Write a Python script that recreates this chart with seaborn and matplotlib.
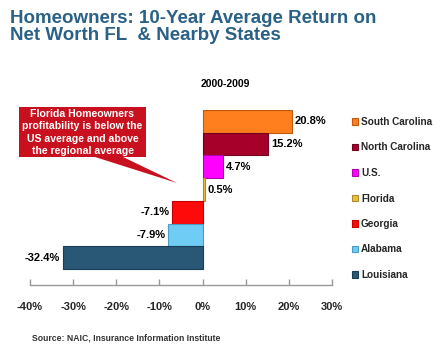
import matplotlib
matplotlib.use("Agg")
import matplotlib.pyplot as plt
from matplotlib.patches import Patch, Polygon
import seaborn as sns
import pandas as pd

# Ten-year average return on net worth, homeowners line, 2000-2009
states = ["South Carolina", "North Carolina", "U.S.", "Florida", "Georgia", "Alabama", "Louisiana"]
returns = [20.8, 15.2, 4.7, 0.5, -7.1, -7.9, -32.4]
fill_colors = ["#FF7F1E", "#A6002A", "#FF00FF", "#E8C03A", "#FF0A0A", "#6FCDF5", "#285876"]
edge_colors = ["#C05A10", "#70001C", "#B000B0", "#B08A30", "#C00000", "#4A9CC0", "#1A3C52"]
x_ticks = [-40, -30, -20, -10, 0, 10, 20, 30]

sns.set_theme(style="white")
plt.rcParams["font.family"] = ["Liberation Sans", "DejaVu Sans"]

df = pd.DataFrame({"state": states, "ret": returns})

fig = plt.figure(figsize=(4.43, 3.49), dpi=100)
ax = fig.add_axes([30 / 443, 1 - 285 / 349, 302 / 443, 175 / 349])

sns.barplot(data=df, x="ret", y="state", hue="state", palette=fill_colors,
            order=states, hue_order=states, orient="h", width=1.0,
            legend=False, ax=ax, saturation=1)
for patch, ec in zip(ax.patches, edge_colors):
    patch.set_edgecolor(ec)
    patch.set_linewidth(0.8)

for cont in ax.containers:
    ax.bar_label(cont, labels=[f"{v:.1f}%" for v in cont.datavalues],
                 padding=2, fontsize=8, fontweight="bold", color="black")

ax.set_xlim(-40, 30)
ax.set_ylim(7.2, -0.5)
ax.set_xticks(x_ticks)
ax.set_xticklabels([f"{t}%" for t in x_ticks], fontsize=8, fontweight="bold")
ax.set_yticks([])
ax.set_xlabel("")
ax.set_ylabel("")
for s in ["top", "left", "right"]:
    ax.spines[s].set_visible(False)
ax.spines["bottom"].set_color("#999999")
ax.spines["bottom"].set_linewidth(1.0)
ax.tick_params(axis="x", direction="in", length=4, color="#999999", width=1.0,
               pad=12, bottom=True)

# Legend on the right
handles = [Patch(facecolor=c, edgecolor=e, linewidth=0.8) for c, e in zip(fill_colors, edge_colors)]
fig.legend(handles, states, loc="upper left", bbox_to_anchor=(352 / 443, 1 - 117 / 349),
           frameon=False, prop={"weight": "bold", "size": 7.2},
           handlelength=0.6, handleheight=0.6, handletextpad=0.3,
           labelspacing=1.55, borderaxespad=0, borderpad=0)

# Title
title_color = "#2A6186"
fig.text(10 / 443, 1 - 23 / 349, "Homeowners: 10-Year Average Return on",
         fontsize=13.5, fontweight="bold", color=title_color, va="baseline", ha="left")
fig.text(10 / 443, 1 - 40.5 / 349, "Net Worth FL  & Nearby States",
         fontsize=13.5, fontweight="bold", color=title_color, va="baseline", ha="left")
fig.text(225 / 443, 1 - 84 / 349, "2000-2009", fontsize=7.5, fontweight="bold",
         color="black", ha="center", va="center")

# Callout
W, H = 443, 349
pts = [(19, 107), (146, 107), (146, 157), (123, 157), (177, 183), (95, 157), (19, 157)]
callout = Polygon([(x / W, 1 - y / H) for x, y in pts], closed=True,
                  transform=fig.transFigure, facecolor="#C8101E", edgecolor="none")
fig.patches.append(callout)
fig.text(82.5 / W, 1 - 132.5 / H,
         "Florida Homeowners\nprofitability is below the\nUS average and above\nthe regional average",
         ha="center", va="center", fontsize=7.6, fontweight="bold", color="white",
         linespacing=1.3)

fig.text(32 / W, 1 - 338 / H, "Source: NAIC, Insurance Information Institute",
         fontsize=6.2, fontweight="bold", color="#333333", ha="left", va="center")

fig.savefig("out.png", dpi=100)
